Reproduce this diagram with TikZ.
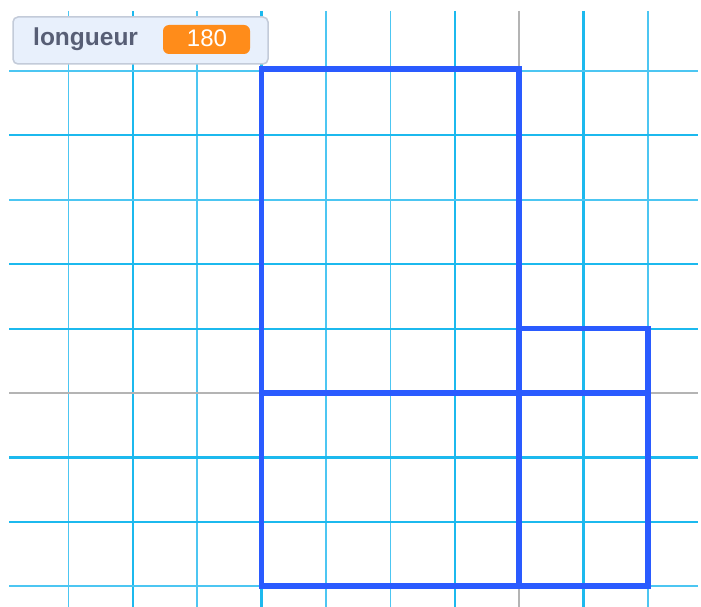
\documentclass[tikz,border=0pt]{standalone}
\usepackage{fontspec}
\setmainfont{Liberation Sans}
\definecolor{gridc}{HTML}{1CB9EE}
\definecolor{gridl}{HTML}{4CC6F2}
\definecolor{axisc}{HTML}{B4B4B4}
\definecolor{penc}{HTML}{2A5BFF}
\definecolor{boxfill}{HTML}{E8F0FC}
\definecolor{boxdraw}{HTML}{C3CBD9}
\definecolor{labtext}{HTML}{575E75}
\definecolor{orangec}{HTML}{FF8C1A}
\tikzset{
  thickgrid/.style={draw=gridc, line width=2.2pt},
  thingrid/.style={draw=gridl, line width=1.5pt},
  axisline/.style={draw=axisc, line width=1.5pt},
  pen/.style={draw=penc, line width=5.5pt, line join=miter},
  monitor/.style={draw=boxdraw, fill=boxfill, line width=1.5pt, rounded corners=5pt, minimum width=255pt, minimum height=47pt, inner sep=0pt},
  valbox/.style={fill=orangec, rounded corners=6pt, minimum width=87pt, minimum height=29pt, inner sep=0pt},
}
\begin{document}
\begin{tikzpicture}[x=1pt,y=-1pt]
\useasboundingbox (0,0) rectangle (701,607);
\fill[white] (0,0) rectangle (701,607);
% vertical grid lines
\foreach \i in {0,2,4,5,9}
  \draw[thingrid] ({68.3+64.4*\i},11) -- ({68.3+64.4*\i},607);
\foreach \i in {1,3,6,8}
  \draw[thickgrid] ({68.3+64.4*\i},11) -- ({68.3+64.4*\i},607);
% horizontal grid lines
\foreach \j in {0,2,8}
  \draw[thingrid] (9,{71+64.4*\j}) -- (698,{71+64.4*\j});
\foreach \j in {1,3,4,6,7}
  \draw[thickgrid] (9,{71+64.4*\j}) -- (698,{71+64.4*\j});
% axes
\draw[axisline] (519.1,11) -- (519.1,607);
\draw[axisline] (9,393) -- (698,393);
% pen drawing
\coordinate (A) at (261.5,69);
\coordinate (B) at (519.1,586.2);
\coordinate (C) at (261.5,393);
\coordinate (D) at (647.9,393);
\coordinate (E) at (519.1,328.6);
\coordinate (F) at (647.9,328.6);
\coordinate (G) at (647.9,586.2);
\draw[pen] (A) rectangle (B);
\draw[pen] (C) -- (D);
\draw[pen] (E) -- (F) -- (G) -- (B);
% monitor
\node[monitor] (mon) at (140.5,40.5) {};
\node[valbox] (val) at (206.5,39.5) {};
\node[anchor=base west, inner sep=0pt, text=labtext, font=\bfseries\fontsize{24.5}{28}\selectfont] (lab) at (33,46) {longueur};
\node[anchor=base, inner sep=0pt, text=white, font=\fontsize{24}{28}\selectfont] (num) at (207,46.5) {180};
\end{tikzpicture}
\end{document}
